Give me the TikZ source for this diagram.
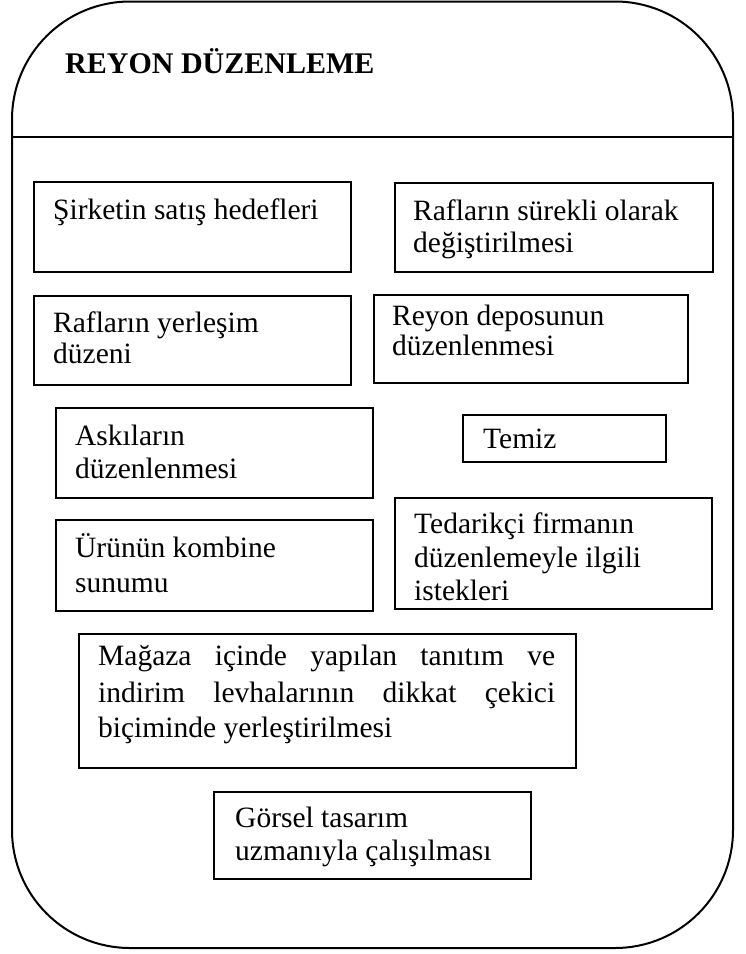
\documentclass[tikz,border=0pt]{standalone}
\usepackage{fontspec}
\setmainfont{Liberation Serif}
\newfontfamily\boxfont{Liberation Serif}
\begin{document}
\begin{tikzpicture}[x=1pt,y=-1pt,
  outerframe/.style={draw, line width=2pt, rounded corners=118pt},
  cellbox/.style={draw, line width=1.8pt, inner sep=0pt, anchor=north west},
  txt/.style={anchor=base west, inner sep=0pt, font=\boxfont\fontsize{29.5}{34}\selectfont},
  heading/.style={anchor=base west, inner sep=0pt, font=\boxfont\bfseries\fontsize{30}{36}\selectfont}]
\useasboundingbox (0,0) rectangle (745,954);

% outer rounded frame and the heading band
\draw[outerframe] (12,1.5) rectangle (733,948);
\coordinate (divL) at (12,137);
\coordinate (divR) at (733,137);
\draw[line width=1.8pt] (divL) -- (divR);
\node[heading] (title) at (65,73) {REYON DÜZENLEME};

% boxes
\node[cellbox, minimum width=317pt, minimum height=90pt] (b1) at (33,181) {};
\node[cellbox, minimum width=318pt, minimum height=89pt] (b2) at (394,182) {};
\node[cellbox, minimum width=317pt, minimum height=89pt] (b3) at (33,295) {};
\node[cellbox, minimum width=314pt, minimum height=88pt] (b4) at (373,294) {};
\node[cellbox, minimum width=317pt, minimum height=90pt] (b5) at (55,407) {};
\node[cellbox, minimum width=203pt, minimum height=47pt] (b6) at (462,414) {};
\node[cellbox, minimum width=317pt, minimum height=111pt] (b7) at (394,497) {};
\node[cellbox, minimum width=317pt, minimum height=91pt] (b8) at (55,519) {};
\node[cellbox, minimum width=497pt, minimum height=134pt] (b9) at (78,633) {};
\node[cellbox, minimum width=317pt, minimum height=87pt] (b10) at (213,791) {};

% box texts
\node[txt] (t1) at (53,219) {Şirketin satış hedefleri};

\node[txt] (t2a) at (413,220) {Rafların sürekli olarak};
\node[txt] (t2b) at (413,252) {değiştirilmesi};

\node[txt] (t3a) at (53,332) {Rafların yerleşim};
\node[txt] (t3b) at (53,363) {düzeni};

\node[txt] (t4a) at (392,325) {Reyon deposunun};
\node[txt] (t4b) at (392,355) {düzenlenmesi};

\node[txt] (t5a) at (75,445) {Askıların};
\node[txt] (t5b) at (75,478) {düzenlenmesi};

\node[txt] (t6) at (483,448) {Temiz};

\begin{scope}
  \clip (394,497) rectangle (711,604);
  \node[txt] (t7a) at (414,533) {Tedarikçi firmanın};
  \node[txt] (t7b) at (414,567) {düzenlemeyle ilgili};
  \node[txt] (t7c) at (414,600) {istekleri};
\end{scope}

\node[txt] (t8a) at (75,557) {Ürünün kombine};
\node[txt] (t8b) at (75,592) {sunumu};

\node[txt] (t9a) at (98,665) {\makebox[457pt][s]{Mağaza içinde yapılan tanıtım ve}};
\node[txt] (t9b) at (98,702) {\makebox[457pt][s]{indirim levhalarının dikkat çekici}};
\node[txt] (t9c) at (98,737) {biçiminde yerleştirilmesi};

\node[txt] (t10a) at (235,827) {Görsel tasarım};
\node[txt] (t10b) at (235,860) {uzmanıyla çalışılması};
\end{tikzpicture}
\end{document}
